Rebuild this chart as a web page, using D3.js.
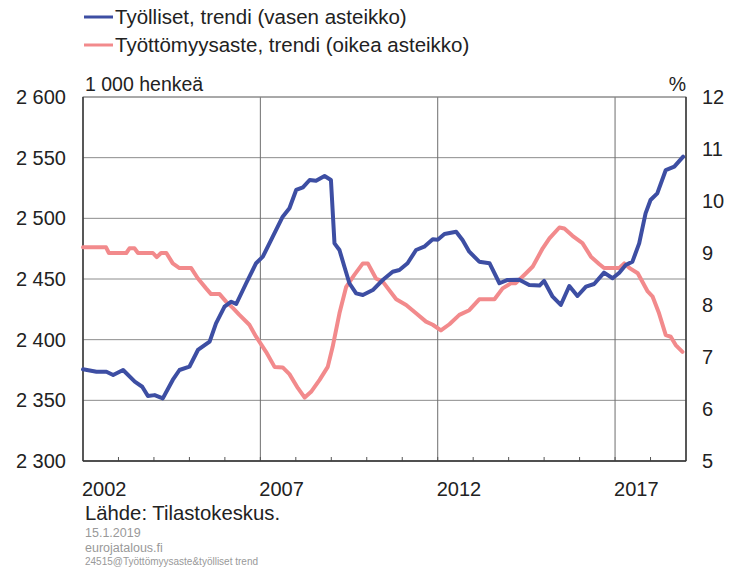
<!DOCTYPE html>
<html>
<head>
<meta charset="utf-8">
<script src="https://cdn.jsdelivr.net/npm/d3@7"></script>
<style>
  body { margin: 0; background: #fff; }
  text { font-family: "Liberation Sans", Arial, sans-serif; }
</style>
</head>
<body>
<script>
// employed persons, trend (1000 persons), decimal year -> value
var empYears = [2002.0, 2002.38, 2002.66, 2002.85, 2003.13, 2003.46, 2003.67, 2003.83, 2004.02, 2004.25,
  2004.53, 2004.72, 2005.0, 2005.24, 2005.57, 2005.75, 2005.99, 2006.18, 2006.32, 2006.6, 2006.88,
  2007.07, 2007.35, 2007.63, 2007.82, 2008.01, 2008.2, 2008.39, 2008.57, 2008.81, 2008.99, 2009.09,
  2009.23, 2009.37, 2009.51, 2009.7, 2009.89, 2010.17, 2010.45, 2010.73, 2010.92, 2011.15, 2011.39,
  2011.62, 2011.86, 2012.0, 2012.19, 2012.52, 2012.7, 2012.89, 2013.17, 2013.46, 2013.74, 2013.97,
  2014.3, 2014.58, 2014.87, 2015.0, 2015.24, 2015.47, 2015.71, 2015.94, 2016.18, 2016.41, 2016.69,
  2016.93, 2017.12, 2017.3, 2017.49, 2017.68, 2017.86, 2018.0, 2018.19, 2018.43, 2018.67, 2018.92];
var empValues = [2375.6, 2373.6, 2373.6, 2370.9, 2375, 2365.4, 2361.2, 2353.6, 2354.3, 2351.6,
  2366.8, 2375, 2377.7, 2391.5, 2398.4, 2413.5, 2427.2, 2431.3, 2429.4, 2446.5, 2463,
  2468.4, 2484.9, 2501.4, 2508.3, 2523.4, 2525.6, 2531.6, 2531, 2534.9, 2531.6, 2479.4,
  2473.9, 2460.1, 2446.5, 2438.2, 2436.8, 2440.9, 2449.2, 2456, 2457.4, 2463, 2473.9,
  2476.6, 2482.7, 2482.4, 2487.1, 2489, 2482.1, 2472.5, 2464.3, 2463, 2446.5, 2449.2,
  2449.4, 2445.1, 2444.6, 2448.4, 2435.4, 2428.6, 2444.2, 2436, 2443.7, 2445.9, 2455.2,
  2450.6, 2455.2, 2461.5, 2464.3, 2479.4, 2504.1, 2515.1, 2520.6, 2539.8, 2542.6, 2550.8];

// unemployment rate, trend (%)
var unempYears = [2002.0, 2002.65, 2002.73, 2003.22, 2003.31, 2003.45, 2003.55, 2003.97, 2004.08, 2004.2,
  2004.35, 2004.53, 2004.72, 2005.05, 2005.24, 2005.47, 2005.61, 2005.85, 2006.04, 2006.23, 2006.41,
  2006.69, 2006.88, 2007.16, 2007.4, 2007.63, 2007.82, 2008.06, 2008.25, 2008.43, 2008.67, 2008.9,
  2009.04, 2009.23, 2009.42, 2009.65, 2009.89, 2010.03, 2010.26, 2010.45, 2010.83, 2011.11, 2011.39,
  2011.67, 2011.86, 2012.09, 2012.33, 2012.61, 2012.89, 2013.17, 2013.6, 2013.83, 2014.07, 2014.2,
  2014.49, 2014.68, 2014.96, 2015.15, 2015.43, 2015.57, 2015.8, 2016.08, 2016.32, 2016.55, 2016.69,
  2017.12, 2017.26, 2017.41, 2017.64, 2017.92, 2018.06, 2018.24, 2018.43, 2018.57, 2018.71, 2018.9];
var unempValues = [9.11, 9.11, 9.0, 9.0, 9.09, 9.09, 9.0, 9.0, 8.92, 9.0,
  9.0, 8.8, 8.71, 8.71, 8.51, 8.32, 8.21, 8.21, 8.06, 7.94, 7.81,
  7.62, 7.39, 7.1, 6.81, 6.8, 6.67, 6.4, 6.22, 6.33, 6.56, 6.81,
  7.2, 7.84, 8.35, 8.58, 8.8, 8.8, 8.51, 8.45, 8.11, 8.0, 7.84,
  7.68, 7.62, 7.51, 7.63, 7.81, 7.9, 8.11, 8.11, 8.32, 8.42, 8.42,
  8.61, 8.74, 9.09, 9.28, 9.49, 9.47, 9.33, 9.19, 8.93, 8.79, 8.71,
  8.71, 8.8, 8.71, 8.61, 8.26, 8.16, 7.84, 7.42, 7.39, 7.23, 7.1];

var leftTicks = [2300, 2350, 2400, 2450, 2500, 2550, 2600];
var rightTicks = [5, 6, 7, 8, 9, 10, 11, 12];
var yearLabels = [2002, 2007, 2012, 2017];
var legendLabels = ["Työlliset, trendi (vasen asteikko)", "Työttömyysaste, trendi (oikea asteikko)"];

var blue = "#3d4ea3", pink = "#f28a8c";

var W = 729, H = 570;
var plotL = 83, plotR = 686, plotT = 97, plotB = 461;

var svg = d3.select("body").append("svg")
  .attr("width", W).attr("height", H);

var x = d3.scaleLinear().domain([2002, 2019]).range([plotL, plotR]);
var yL = d3.scaleLinear().domain([2300, 2600]).range([plotB, plotT]);
var yR = d3.scaleLinear().domain([5, 12]).range([plotB, plotT]);

// horizontal grid
svg.append("g").selectAll("line").data(leftTicks).enter().append("line")
  .attr("x1", plotL).attr("x2", plotR)
  .attr("y1", function(d) { return yL(d); }).attr("y2", function(d) { return yL(d); })
  .attr("stroke", "#8c8c8c").attr("stroke-width", 1);

// vertical grid every 5 years
svg.append("g").selectAll("line").data([2007, 2012, 2017]).enter().append("line")
  .attr("x1", function(d) { return x(d); }).attr("x2", function(d) { return x(d); })
  .attr("y1", plotT).attr("y2", plotB)
  .attr("stroke", "#6e6e6e").attr("stroke-width", 1);

// yearly ticks on the bottom axis
svg.append("g").selectAll("line").data(d3.range(2003, 2019)).enter().append("line")
  .attr("x1", function(d) { return x(d); }).attr("x2", function(d) { return x(d); })
  .attr("y1", plotB).attr("y2", plotB - 4)
  .attr("stroke", "#555");

// frame
svg.append("rect")
  .attr("x", plotL).attr("y", plotT).attr("width", plotR - plotL).attr("height", plotB - plotT)
  .attr("fill", "none").attr("stroke", "#8c8c8c");
svg.append("line").attr("x1", plotL).attr("x2", plotL).attr("y1", plotT).attr("y2", plotB)
  .attr("stroke", "#333").attr("stroke-width", 1.5);
svg.append("line").attr("x1", plotL).attr("x2", plotR).attr("y1", plotB).attr("y2", plotB)
  .attr("stroke", "#333").attr("stroke-width", 1.5);
svg.append("line").attr("x1", plotR).attr("x2", plotR).attr("y1", plotT).attr("y2", plotB)
  .attr("stroke", "#333").attr("stroke-width", 1.5);

// lines
var empData = empYears.map(function(t, i) { return [t, empValues[i]]; });
var unempData = unempYears.map(function(t, i) { return [t, unempValues[i]]; });

svg.append("path").datum(unempData)
  .attr("d", d3.line().x(function(d) { return x(d[0]); }).y(function(d) { return yR(d[1]); }))
  .attr("fill", "none").attr("stroke", pink).attr("stroke-width", 4)
  .attr("stroke-linejoin", "round").attr("stroke-linecap", "round");

svg.append("path").datum(empData)
  .attr("d", d3.line().x(function(d) { return x(d[0]); }).y(function(d) { return yL(d[1]); }))
  .attr("fill", "none").attr("stroke", blue).attr("stroke-width", 4)
  .attr("stroke-linejoin", "round").attr("stroke-linecap", "round");

// left axis labels
svg.append("g").selectAll("text").data(leftTicks).enter().append("text")
  .attr("x", 66).attr("y", function(d) { return yL(d) + 7; })
  .attr("text-anchor", "end").attr("font-size", 20).attr("fill", "#222")
  .text(function(d) { return d3.format(",")(d).replace(",", " "); });

// right axis labels
svg.append("g").selectAll("text").data(rightTicks).enter().append("text")
  .attr("x", 702).attr("y", function(d) { return yR(d) + 7; })
  .attr("font-size", 20).attr("fill", "#222")
  .text(function(d) { return d; });

// year labels
svg.append("g").selectAll("text").data(yearLabels).enter().append("text")
  .attr("x", function(d) { return x(d) - 1; }).attr("y", 496)
  .attr("font-size", 20).attr("fill", "#222")
  .text(function(d) { return d; });

// units
svg.append("text").attr("x", 85).attr("y", 91).attr("font-size", 19.5).attr("fill", "#222").text("1 000 henkeä");
svg.append("text").attr("x", 686).attr("y", 91).attr("text-anchor", "end").attr("font-size", 19.5).attr("fill", "#222").text("%");

// legend
var legend = svg.append("g");
[blue, pink].forEach(function(c, i) {
  var ly = 17 + i * 28;
  legend.append("line").attr("x1", 84).attr("x2", 113).attr("y1", ly).attr("y2", ly)
    .attr("stroke", c).attr("stroke-width", 3);
  legend.append("text").attr("x", 115).attr("y", ly + 7).attr("font-size", 20.5).attr("fill", "#222")
    .text(legendLabels[i]);
});

// source and footer
svg.append("text").attr("x", 85).attr("y", 520).attr("font-size", 20.3).attr("fill", "#222").text("Lähde: Tilastokeskus.");
svg.append("text").attr("x", 85).attr("y", 537).attr("font-size", 12.5).attr("fill", "#999").text("15.1.2019");
svg.append("text").attr("x", 85).attr("y", 552).attr("font-size", 12.5).attr("fill", "#999").text("eurojatalous.fi");
svg.append("text").attr("x", 85).attr("y", 565).attr("font-size", 10).attr("fill", "#999").text("24515@Työttömyysaste&työlliset  trend");
</script>
</body>
</html>
